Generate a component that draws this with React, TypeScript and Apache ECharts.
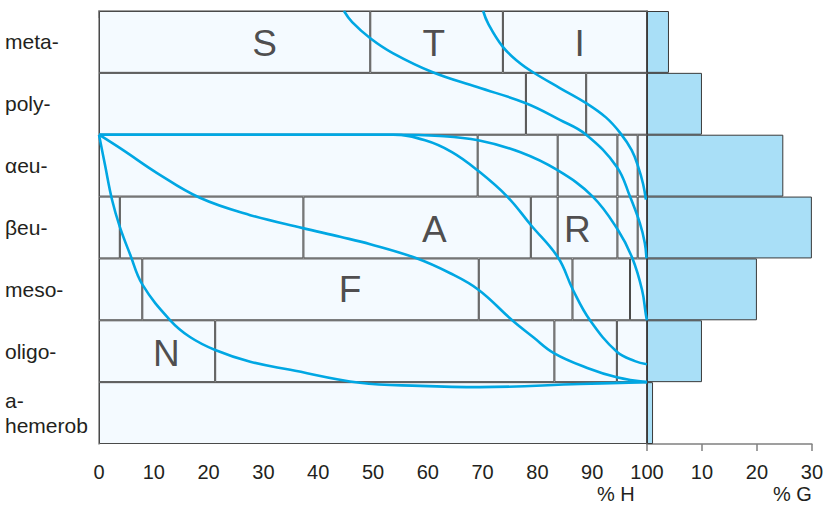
import React, { useEffect, useRef } from 'react';
import * as echarts from 'echarts';

// Row categories (top to bottom)
const rows = ['meta-', 'poly-', 'αeu-', 'βeu-', 'meso-', 'oligo-', 'a-\nhemerob'];

// Segment boundaries (% H) inside each row
const metaBounds = [49.5, 73.7];
const polyBounds = [77.9, 88.9];
const alphaBounds = [69.1, 83.7, 94.6, 98.3];
const betaBounds = [3.8, 37.3, 78.8, 83.7, 94.6, 98.3];
const mesoBounds = [7.9, 69.3, 86.4, 96.9];
const oligoBounds = [21.2, 83.1, 94.5];
const ahemBounds: number[] = [];

// % G histogram values per row
const gShare = [4, 10, 24.8, 30, 20, 10, 1.1];

// Tick values
const hTicks = [0, 10, 20, 30, 40, 50, 60, 70, 80, 90, 100];
const gTicks = [0, 10, 20, 30];

// Curves: [% H, row position (0 = top of meta-, 7 = bottom)]
const curveA = [[70.1, 0], [71.0, 0.2], [73.7, 0.58], [76.5, 0.82], [79.2, 0.99], [84.1, 1.245], [88.9, 1.49], [92.5, 1.72], [95.1, 1.97], [97.2, 2.25], [98.4, 2.52], [99.3, 2.8], [99.8, 3.05]];
const curveB = [[44.7, 0], [46.2, 0.18], [49.5, 0.44], [53.6, 0.68], [60.9, 0.99], [69.0, 1.23], [77.9, 1.49], [84.1, 1.76], [88.9, 2.0], [94.5, 2.52], [96.9, 3.0], [98.7, 3.43], [99.6, 3.75], [99.9, 4.0]];
const curveC = [[0, 2], [27.6, 2], [53.6, 2], [62.2, 2.02], [69.2, 2.09], [76.8, 2.28], [83.6, 2.57], [90.1, 3.0], [94.7, 3.54], [97.3, 3.99], [99.1, 4.51], [99.8, 4.91], [100, 5.0]];
const curveD = [[0, 2], [27.6, 2], [53.6, 2], [59.5, 2.09], [64.4, 2.28], [69.0, 2.57], [74.5, 3.0], [78.8, 3.46], [83.8, 3.99], [86.5, 4.51], [89.6, 5.0], [94.5, 5.51], [97.8, 5.66], [100, 5.71]];
const curveE = [[0, 2], [4.4, 2.25], [10.6, 2.62], [18.4, 3.02], [27.6, 3.3], [37.2, 3.51], [44.0, 3.65], [49.5, 3.77], [57.7, 3.99], [64.1, 4.24], [69.3, 4.51], [75.4, 5.0], [79.2, 5.27], [83.0, 5.53], [89.1, 5.77], [94.5, 5.92], [100, 6.0]];
const curveF = [[0, 2], [1.1, 2.49], [2.4, 3.06], [3.8, 3.49], [5.7, 3.94], [7.9, 4.42], [13.0, 5.0], [16.6, 5.27], [21.2, 5.48], [27.6, 5.67], [34.9, 5.8], [47.6, 6.01], [58.6, 6.06], [69.5, 6.08], [87.8, 6.03], [100, 6.0]];

// Zone letters
const letterNames = ['S', 'T', 'I', 'A', 'R', 'F', 'N'];
const letterX = [30.2, 61.1, 87.7, 61.2, 87.3, 45.8, 12.3];
const letterY = [0.525, 0.525, 0.525, 3.53, 3.53, 4.5, 5.53];

const FONT = '"Liberation Sans", Arial, Helvetica, sans-serif';
const TEXT = '#231f20';

const App = () => {
  const ref = useRef<HTMLDivElement>(null);
  useEffect(() => {
    if (!ref.current) return;
    const chart = echarts.init(ref.current, null, { renderer: 'svg' });

    const allBounds = [metaBounds, polyBounds, alphaBounds, betaBounds, mesoBounds, oligoBounds, ahemBounds];
    const widths = allBounds.map((b) => {
      const e = [0, ...b, 100];
      return e.slice(1).map((v, i) => +(v - e[i]).toFixed(2));
    });
    const maxSeg = Math.max(...widths.map((w) => w.length));
    const segSeries: any[] = [];
    for (let k = 0; k < maxSeg; k++) {
      segSeries.push({
        type: 'bar',
        xAxisIndex: 0,
        yAxisIndex: 0,
        stack: 'h',
        barCategoryGap: '0%',
        silent: true,
        data: widths.map((w) => (w[k] === undefined ? '-' : w[k])),
        itemStyle: { color: '#f4faff', borderColor: '#4a4a4a', borderWidth: 1 },
        z: 2,
      });
    }

    const curves = [curveA, curveB, curveC, curveD, curveE, curveF];
    const lineSeries = curves.map((c) => ({
      type: 'line',
      xAxisIndex: 0,
      yAxisIndex: 1,
      data: c,
      smooth: 0.4,
      symbol: 'none',
      silent: true,
      lineStyle: { color: '#00a7e3', width: 2.6 },
      z: 5,
    }));

    const option: any = {
      animation: false,
      textStyle: { fontFamily: FONT },
      grid: [
        { left: 99, top: 11, width: 548, height: 433 },
        { left: 647, top: 11, width: 167, height: 433 },
      ],
      xAxis: [
        {
          type: 'value',
          gridIndex: 0,
          min: hTicks[0],
          max: hTicks[hTicks.length - 1],
          interval: 10,
          axisLine: { show: true, lineStyle: { color: '#808080', width: 1.5 } },
          axisTick: { show: true, length: 7, lineStyle: { color: '#808080', width: 1.5 } },
          axisLabel: { fontSize: 20, color: TEXT, margin: 18, fontFamily: FONT },
          splitLine: { show: false },
        },
        {
          type: 'value',
          gridIndex: 1,
          min: gTicks[0],
          max: gTicks[gTicks.length - 1],
          interval: 10,
          axisLine: { show: true, lineStyle: { color: '#808080', width: 1.5 } },
          axisTick: { show: true, length: 7, lineStyle: { color: '#808080', width: 1.5 } },
          axisLabel: {
            fontSize: 20,
            color: TEXT,
            margin: 18,
            fontFamily: FONT,
            formatter: (v: number) => (v === 0 ? '' : String(v)),
          },
          splitLine: { show: false },
        },
      ],
      yAxis: [
        {
          type: 'category',
          gridIndex: 0,
          data: rows,
          inverse: true,
          axisLine: { show: true, lineStyle: { color: '#808080', width: 1.5 } },
          axisTick: { show: false },
          axisLabel: { align: 'left', margin: 94, fontSize: 21, lineHeight: 25, color: TEXT, fontFamily: FONT },
        },
        {
          type: 'value',
          gridIndex: 0,
          min: 0,
          max: 7,
          inverse: true,
          show: false,
        },
        {
          type: 'category',
          gridIndex: 1,
          data: rows,
          inverse: true,
          axisLine: { show: true, lineStyle: { color: '#231f20', width: 1.5 } },
          axisTick: { show: false },
          axisLabel: { show: false },
        },
      ],
      graphic: [
        { type: 'text', left: 597, top: 484, style: { text: '% H', fontSize: 20, fill: TEXT, fontFamily: FONT } },
        { type: 'text', left: 773, top: 484, style: { text: '% G', fontSize: 20, fill: TEXT, fontFamily: FONT } },
      ],
      series: [
        ...segSeries,
        {
          type: 'bar',
          xAxisIndex: 1,
          yAxisIndex: 2,
          data: gShare,
          barCategoryGap: '0%',
          silent: true,
          itemStyle: { color: '#a9dff7', borderColor: '#3a3a3a', borderWidth: 1 },
        },
        ...lineSeries,
        {
          type: 'scatter',
          xAxisIndex: 0,
          yAxisIndex: 1,
          symbolSize: 1,
          silent: true,
          itemStyle: { color: 'rgba(0,0,0,0)' },
          label: {
            show: true,
            position: 'inside',
            formatter: '{b}',
            fontSize: 37,
            color: TEXT,
            fontFamily: FONT,
          },
          data: letterNames.map((n, i) => ({ name: n, value: [letterX[i], letterY[i]] })),
          z: 6,
        },
      ],
    };

    chart.setOption(option);
    return () => chart.dispose();
  }, []);
  return <div ref={ref} style={{ position: 'absolute', left: 0, top: 0, width: 826, height: 505 }} />;
};

export default App;
